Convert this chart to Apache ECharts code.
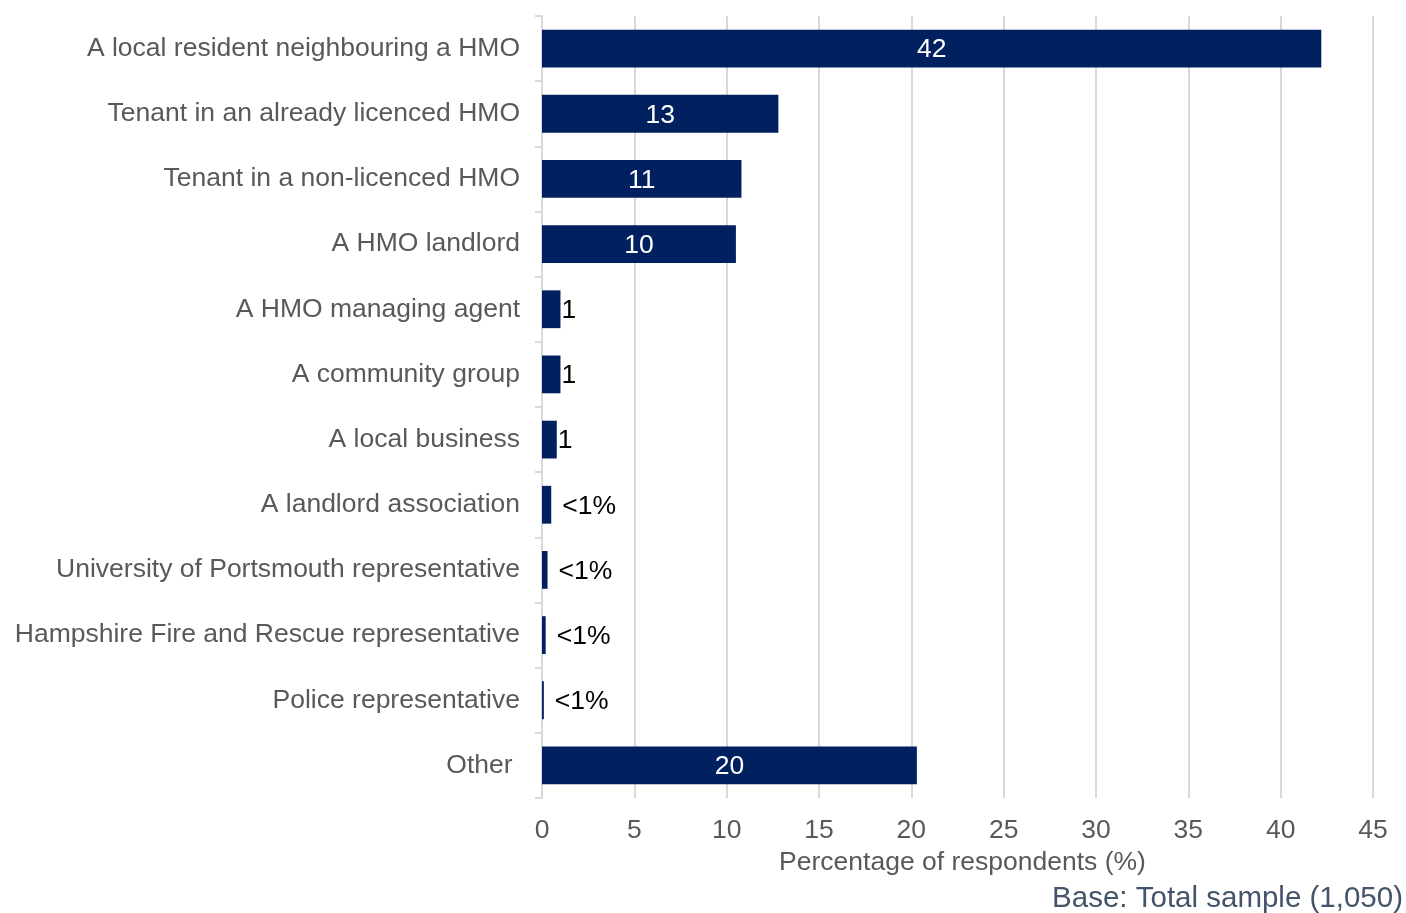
<!DOCTYPE html>
<html>
<head>
<meta charset="utf-8">
<script src="https://cdn.jsdelivr.net/npm/echarts@6/dist/echarts.min.js"></script>
<style>
  html, body { margin: 0; padding: 0; background: #ffffff; }
  #chart { width: 1406px; height: 913px; }
</style>
</head>
<body>
<div id="chart"></div>
<script>
// Respondent type, as listed in the survey
const categories = [
  'A local resident neighbouring a HMO',
  'Tenant in an already licenced HMO',
  'Tenant in a non-licenced HMO',
  'A HMO landlord',
  'A HMO managing agent',
  'A community group',
  'A local business',
  'A landlord association',
  'University of Portsmouth representative',
  'Hampshire Fire and Rescue representative',
  'Police representative',
  'Other '
];

// Percentage of respondents (%)
const values = [42.2, 12.8, 10.8, 10.5, 1.0, 1.0, 0.8, 0.5, 0.3, 0.2, 0.1, 20.3];

// Printed value labels
const valueLabels = ['42', '13', '11', '10', '1', '1', '1', '<1%', '<1%', '<1%', '<1%', '20'];

const xTicks = { min: 0, max: 45, interval: 5 };

const chart = echarts.init(document.getElementById('chart'), null, { renderer: 'canvas' });

const FONT = 'Liberation Sans, Arial, sans-serif';
const BAR = '#002060';
const FS = 26.5;

const seriesData = values.map((v, i) => {
  const big = v >= 5;
  const small = valueLabels[i].indexOf('<') === 0;
  return {
    value: v,
    label: {
      show: true,
      formatter: valueLabels[i],
      position: big ? 'inside' : 'right',
      distance: big ? 0 : (small ? 11 : 1),
      offset: [0, 1.5],
      color: big ? '#ffffff' : '#000000',
      fontSize: FS,
      fontFamily: FONT
    }
  };
});

chart.setOption({
  backgroundColor: '#ffffff',
  animation: false,
  grid: { left: 542, right: 33, top: 16, bottom: 115, containLabel: false },
  xAxis: {
    type: 'value',
    min: xTicks.min,
    max: xTicks.max,
    interval: xTicks.interval,
    name: 'Percentage of respondents (%)',
    nameLocation: 'middle',
    nameGap: 50,
    nameTextStyle: { color: '#595959', fontSize: FS, fontFamily: FONT, padding: [0, 0, 0, 10] },
    axisLine: { show: false },
    axisTick: { show: false },
    axisLabel: { color: '#595959', fontSize: FS, fontFamily: FONT, margin: 19 },
    splitLine: { show: true, lineStyle: { color: '#d9d9d9', width: 2 } }
  },
  yAxis: {
    type: 'category',
    data: categories,
    inverse: true,
    axisLine: { show: true, lineStyle: { color: '#d9d9d9', width: 2 } },
    axisTick: { show: true, length: 7, lineStyle: { color: '#d9d9d9', width: 2 } },
    axisLabel: { color: '#595959', fontSize: FS, fontFamily: FONT, margin: 22, padding: [2, 0, 0, 0] },
    splitLine: { show: false }
  },
  series: [{
    type: 'bar',
    data: seriesData,
    barCategoryGap: '42%',
    itemStyle: { color: BAR }
  }],
  graphic: [{
    type: 'text',
    right: 3,
    top: 884,
    style: {
      text: 'Base: Total sample (1,050)',
      fill: '#44546a',
      fontSize: 29.5,
      fontFamily: FONT
    }
  }]
});
</script>
</body>
</html>
